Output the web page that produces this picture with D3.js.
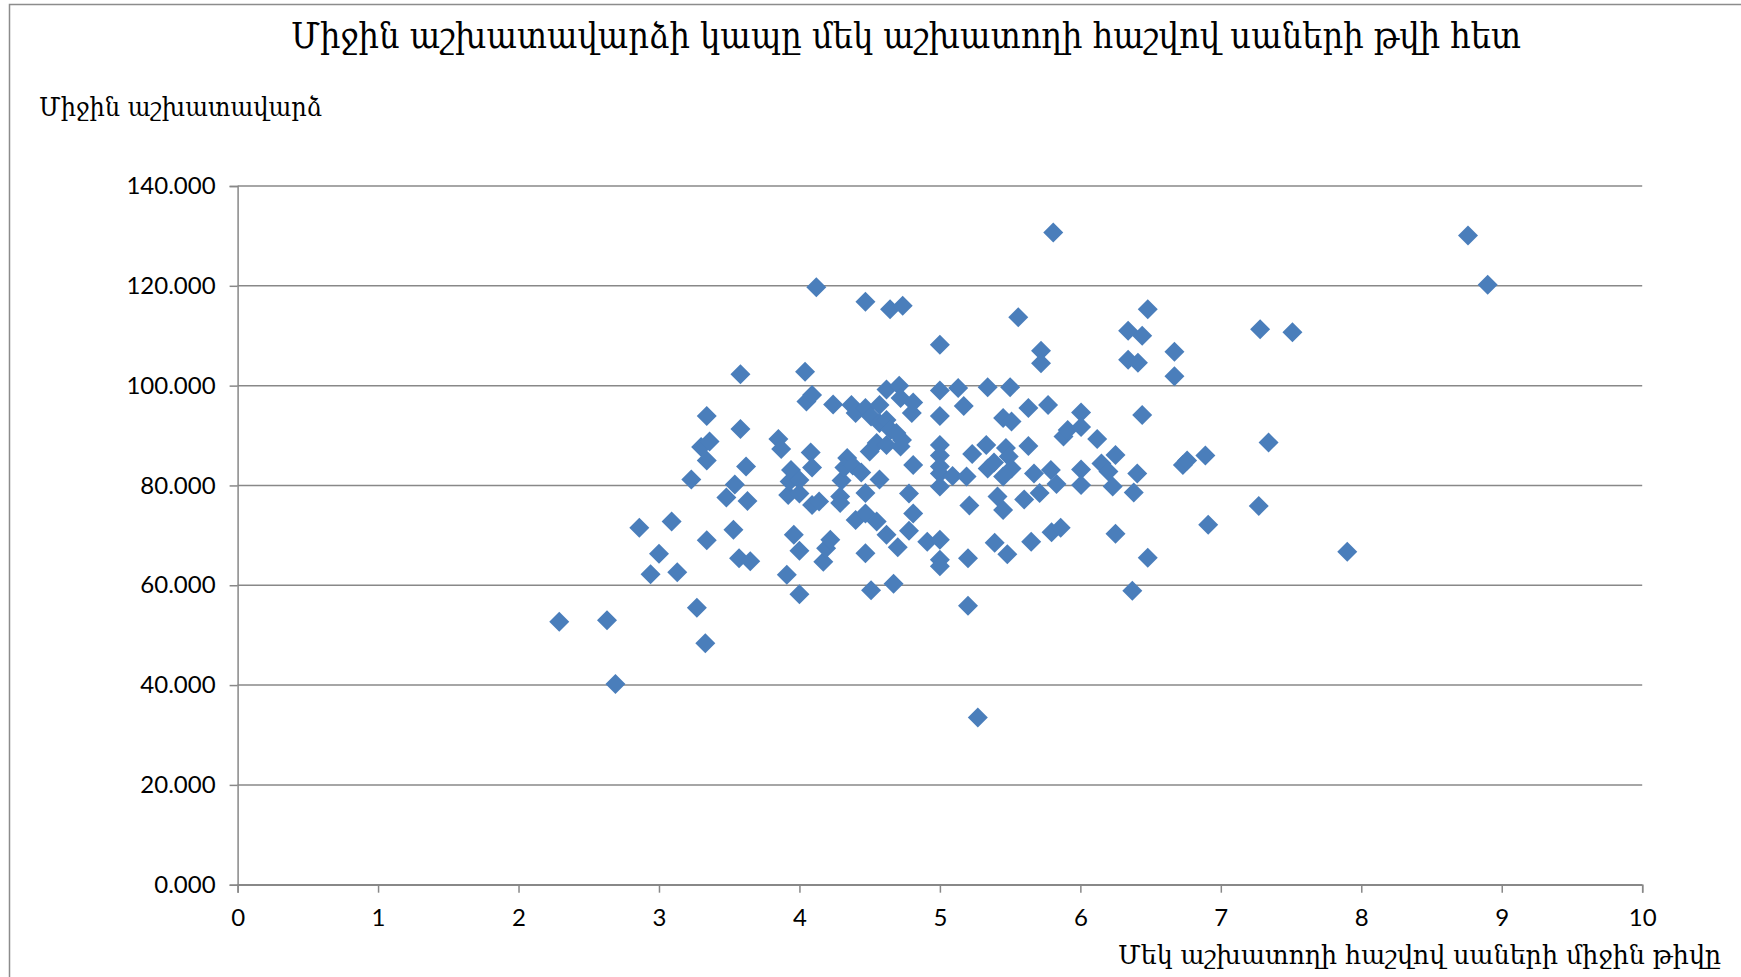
<!DOCTYPE html>
<html>
<head>
<meta charset="utf-8">
<script src="https://cdn.jsdelivr.net/npm/d3@7"></script>
<style>
  body { margin: 0; background: #fff; }
  .tick text { font-family: Lato, "Open Sans", sans-serif; fill: #000; }
  .arm { font-family: "DejaVu Serif Condensed", "DejaVu Serif", serif; font-stretch: condensed; fill: #000; }
</style>
</head>
<body>
<svg id="chart"></svg>
<script>
const svgWidth = 1741;
const svgHeight = 977;

const title = "Միջին աշխատավարձի կապը մեկ աշխատողի հաշվով սաների թվի հետ";
const yTitle = "Միջին աշխատավարձ";
const xTitle = "Մեկ աշխատողի հաշվով սաների միջին թիվը";

const xTicks = [0, 1, 2, 3, 4, 5, 6, 7, 8, 9, 10];
const yTicks = [0, 20, 40, 60, 80, 100, 120, 140];

// children per employee
const xValues = [
    2.29, 2.63, 2.69, 2.86, 2.94, 3.00, 3.09, 3.13, 3.23, 3.27, 3.30, 3.33, 3.34, 3.34, 3.34, 3.36,
    3.48, 3.53, 3.54, 3.57, 3.58, 3.58, 3.62, 3.63, 3.65, 3.85, 3.87,
    3.91, 3.92, 3.93, 3.94, 3.96, 4.00, 4.00, 4.00, 4.00, 4.04, 4.05, 4.09, 4.08, 4.09, 4.09, 4.14,
    4.12, 4.17, 4.19, 4.22, 4.24,
    4.29, 4.29, 4.30, 4.34, 4.32, 4.38, 4.44, 4.37, 4.40, 4.47, 4.47, 4.47, 4.40, 4.47, 4.47, 4.51,
    4.50, 4.51,
    4.55, 4.55, 4.57, 4.57, 4.57, 4.62, 4.62, 4.62, 4.62, 4.645, 4.65, 4.67, 4.69, 4.70, 4.71, 4.72,
    4.72, 4.73, 4.735,
    4.78, 4.78, 4.80, 4.81, 4.81, 4.81, 4.91, 5.00, 5.00, 5.00, 5.00, 5.00, 5.00, 5.00, 5.00, 5.00,
    5.00, 5.00, 5.09, 5.13, 5.17, 5.19, 5.20, 5.20, 5.21, 5.23, 5.27,
    5.33, 5.34, 5.34, 5.385, 5.39, 5.41, 5.45, 5.45, 5.45, 5.47, 5.49, 5.48, 5.50, 5.51, 5.51, 5.558,
    5.60, 5.63, 5.63, 5.65, 5.67, 5.71, 5.72, 5.72, 5.77, 5.79, 5.795, 5.807, 5.83, 5.86,
    5.88, 5.91, 6.005, 6.005, 6.005, 6.005, 6.12, 6.15, 6.20, 6.23, 6.25, 6.25, 6.34, 6.34, 6.37, 6.38,
    6.41, 6.405, 6.44, 6.44, 6.48, 6.48, 6.67, 6.67, 6.73, 6.76, 6.89, 6.91, 7.28, 7.27, 7.34, 7.51,
    7.90, 8.76, 8.90
];

// average salary, thousands
const yValues = [
    52.7, 53.0, 40.2, 71.5, 62.2, 66.3, 72.8, 62.6, 81.2, 55.5, 87.7, 48.4, 93.9, 85.0, 69.0, 88.8,
    77.6, 71.1, 80.2, 65.4, 102.3, 91.3, 83.8, 76.9, 64.8, 89.3, 87.3,
    62.1, 78.1, 80.8, 83.1, 70.1, 81.1, 78.4, 66.9, 58.2, 102.8, 96.8, 98.1, 86.6, 83.6, 76.1, 76.8,
    119.7, 64.7, 67.4, 69.1, 96.2,
    77.8, 76.5, 81.0, 85.5, 83.6, 84.0, 82.6, 96.1, 94.5, 95.5, 116.8, 78.5, 73.1, 74.4, 66.4, 93.8,
    86.8, 59.0,
    88.5, 72.8, 96.1, 92.5, 81.2, 93.1, 99.2, 88.1, 70.1, 115.3, 91.1, 60.3, 90.5, 67.6, 100.0, 97.5,
    87.8, 89.1, 116.0,
    78.4, 70.9, 94.5, 96.6, 84.1, 74.4, 68.7, 108.2, 99.0, 93.9, 88.1, 86.0, 83.8, 82.4, 79.8, 69.1,
    65.1, 63.8, 81.9, 99.5, 95.9, 81.8, 65.4, 55.9, 76.0, 86.3, 33.5,
    88.1, 99.7, 83.4, 84.6, 68.5, 77.8, 75.1, 93.5, 81.8, 87.5, 85.8, 66.2, 99.7, 92.8, 83.4, 113.7,
    77.2, 95.5, 87.9, 68.7, 82.4, 78.5, 107.0, 104.5, 96.1, 83.1, 70.6, 130.7, 80.3, 71.5,
    89.8, 91.1, 94.6, 91.7, 83.2, 80.1, 89.3, 84.4, 82.8, 79.8, 86.1, 70.3, 111.0, 105.2, 58.9, 78.6,
    104.6, 82.4, 110.0, 94.1, 115.3, 65.5, 106.8, 101.9, 84.1, 85.0, 86.0, 72.1, 111.3, 75.9, 88.6, 110.7,
    66.7, 130.1, 120.2
];

const plot = { left: 237.6, right: 1642.2, top: 186, bottom: 884.7 };

const svg = d3.select("#chart")
    .attr("width", svgWidth)
    .attr("height", svgHeight);

// outer chart frame (cut by the picture on right and bottom)
svg.append("path")
    .attr("d", `M9.5,${svgHeight + 5}V4.5H${svgWidth + 5}`)
    .attr("fill", "none")
    .attr("stroke", "#8c8c8c")
    .attr("stroke-width", 1.5);

const xScale = d3.scaleLinear().domain([0, 10]).range([plot.left, plot.right]);
const yScale = d3.scaleLinear().domain([0, 140]).range([plot.bottom, plot.top]);

// gridlines
svg.append("g")
    .selectAll("line")
    .data(yTicks)
    .enter()
    .append("line")
    .attr("x1", plot.left)
    .attr("x2", plot.right)
    .attr("y1", d => yScale(d))
    .attr("y2", d => yScale(d))
    .attr("stroke", "#888")
    .attr("stroke-width", 1.5);

const yAxis = d3.axisLeft(yScale)
    .tickValues(yTicks)
    .tickSize(8)
    .tickPadding(14)
    .tickFormat(d3.format(".3f"));
const gy = svg.append("g")
    .attr("transform", `translate(${plot.left},0)`)
    .call(yAxis);
gy.selectAll("path, line").attr("stroke", "#888").attr("stroke-width", 1.5);
gy.selectAll("text").style("font-size", "24px");

const xAxis = d3.axisBottom(xScale)
    .tickValues(xTicks)
    .tickSize(8)
    .tickPadding(16);
const gx = svg.append("g")
    .attr("transform", `translate(0,${plot.bottom})`)
    .call(xAxis);
gx.selectAll("path, line").attr("stroke", "#888").attr("stroke-width", 1.5);
gx.selectAll("text").style("font-size", "24px");

// points
const diamond = d3.symbol().type(d3.symbolSquare).size(200);
svg.append("g")
    .selectAll("path")
    .data(xValues)
    .enter()
    .append("path")
    .attr("d", diamond)
    .attr("transform", (d, i) => `translate(${xScale(d)},${yScale(yValues[i])}) rotate(45)`)
    .attr("fill", "#4a7ebb");

// titles
svg.append("text")
    .attr("class", "arm")
    .attr("x", 291)
    .attr("y", 48)
    .attr("textLength", 1230)
    .attr("lengthAdjust", "spacingAndGlyphs")
    .style("font-size", "35px")
    .text(title);

svg.append("text")
    .attr("class", "arm")
    .attr("x", 39)
    .attr("y", 116)
    .attr("textLength", 283)
    .attr("lengthAdjust", "spacingAndGlyphs")
    .style("font-size", "26px")
    .text(yTitle);

svg.append("text")
    .attr("class", "arm")
    .attr("x", 1118)
    .attr("y", 964)
    .attr("textLength", 603)
    .attr("lengthAdjust", "spacingAndGlyphs")
    .style("font-size", "26px")
    .text(xTitle);
</script>
</body>
</html>
